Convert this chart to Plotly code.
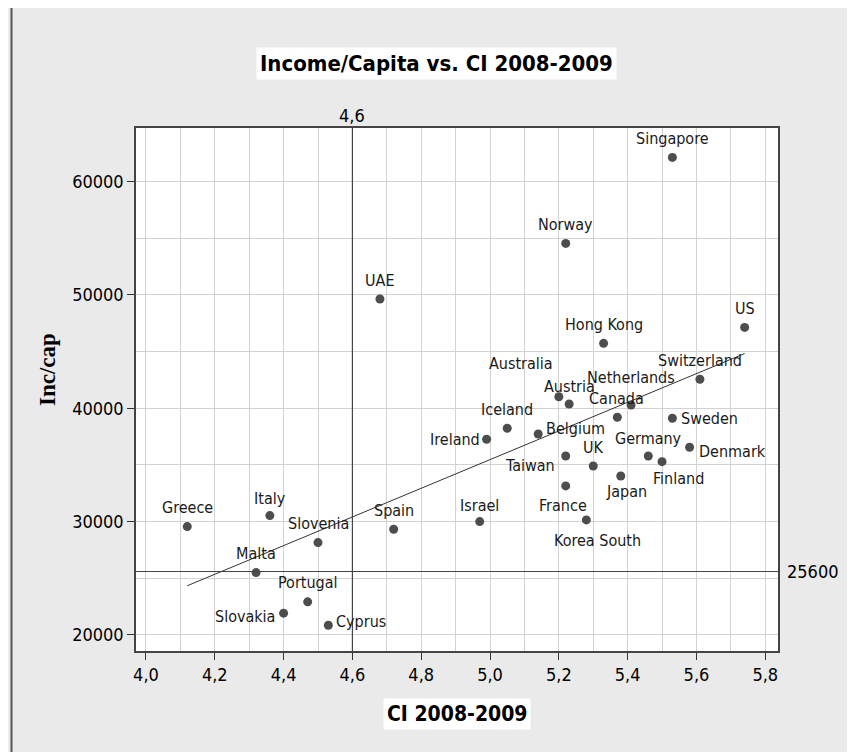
import numpy as np
import plotly.graph_objects as go

# ---------------- data ----------------
countries = ["Singapore", "Norway", "UAE", "US", "Hong Kong", "Switzerland", "Australia",
             "Austria", "Netherlands", "Canada", "Iceland", "Ireland", "Belgium", "Sweden",
             "Denmark", "Germany", "Finland", "Taiwan", "UK", "Japan", "France",
             "Korea South", "Israel", "Greece", "Italy", "Slovenia", "Spain", "Malta",
             "Portugal", "Slovakia", "Cyprus"]
ci = [5.53, 5.22, 4.68, 5.74, 5.33, 5.61, 5.20,
      5.23, 5.41, 5.37, 5.05, 4.99, 5.14, 5.53,
      5.58, 5.46, 5.50, 5.22, 5.30, 5.38, 5.22,
      5.28, 4.97, 4.12, 4.36, 4.50, 4.72, 4.32,
      4.47, 4.40, 4.53]
inc = [62140, 54550, 49640, 47140, 45730, 42560, 41020,
       40380, 40290, 39210, 38240, 37270, 37730, 39120,
       36560, 35790, 35290, 35790, 34910, 34030, 33150,
       30150, 30000, 29560, 30530, 28150, 29330, 25500,
       22920, 21920, 20860]

x_tickvals = [4.0, 4.2, 4.4, 4.6, 4.8, 5.0, 5.2, 5.4, 5.6, 5.8]
x_ticktext = ["4,0", "4,2", "4,4", "4,6", "4,8", "5,0", "5,2", "5,4", "5,6", "5,8"]
y_tickvals = [20000, 30000, 40000, 50000, 60000]
y_ticktext = ["20000", "30000", "40000", "50000", "60000"]

ref_x = 4.6
ref_x_label = "4,6"
ref_y = 25600
ref_y_label = "25600"

title_text = "Income/Capita vs. CI 2008-2009"
x_title = "CI 2008-2009"
y_title = "Inc/cap"

# ---------------- style / layout ----------------
OFF = 8                      # page body margin in the browser
W, H = 855 - OFF, 752 - OFF  # figure size
L, R, T, B = 128, 77, 120, 101
PW, PH = W - L - R, H - T - B
BG = "#EAEAEA"
NARROW = "DejaVu Sans Condensed, Liberation Sans Narrow, sans-serif"

def px_x(p):
    """page pixel x -> paper coordinate"""
    return (p - OFF - L) / PW

def px_y(p):
    """page pixel y -> paper coordinate"""
    return (H - B - (p - OFF)) / PH

# label offsets (style): name -> (xanchor, xshift, yshift)
label_style = {
    "Australia": ("center", -38, 33),
    "Austria": ("center", 0, 17),
    "Netherlands": ("center", 0, 28),
    "Canada": ("center", -1, 19),
    "Ireland": ("right", -5, 0),
    "Belgium": ("left", 6, 6),
    "Taiwan": ("right", -9, -9),
    "UK": ("center", 0, 18),
    "Germany": ("center", 0, 18),
    "Finland": ("center", 16, -17),
    "Japan": ("center", 6, -16),
    "France": ("center", -3, -20),
    "Korea South": ("center", 11, -21),
    "Israel": ("center", 0, 16),
    "Sweden": ("left", 7, 0),
    "Denmark": ("left", 7, -4),
    "Slovakia": ("right", -7, -3),
    "Cyprus": ("left", 6, 4),
    "Italy": ("center", 0, 17),
}

# regression line (least squares fit)
xa = np.array(ci)
ya = np.array(inc)
slope, intercept = np.polyfit(xa, ya, 1)
fit_x = np.array([xa.min(), xa.max()])
fit_y = slope * fit_x + intercept

fig = go.Figure()
fig.add_trace(go.Scatter(x=fit_x, y=fit_y, mode="lines",
                         line=dict(color="#333333", width=1), hoverinfo="skip",
                         showlegend=False))
fig.add_trace(go.Scatter(x=ci, y=inc, mode="markers", text=countries,
                         marker=dict(symbol="circle", size=9, color="#4d4d4d"),
                         showlegend=False))

annotations = []
for name, xv, yv in zip(countries, ci, inc):
    xanchor, xs, ys = label_style.get(name, ("center", 0, 19))
    annotations.append(dict(x=xv, y=yv, xref="x", yref="y", text=name, showarrow=False,
                            xanchor=xanchor, yanchor="middle", xshift=xs, yshift=ys,
                            font=dict(family=NARROW, size=16, color="#1a1a1a")))

# title with white box
annotations.append(dict(x=px_x(436), y=px_y(64), xref="paper", yref="paper",
                        text="<b>" + title_text + "</b>", showarrow=False,
                        xanchor="center", yanchor="middle", bgcolor="white", borderpad=3,
                        font=dict(family=NARROW, size=22, color="black")))
# x axis title with white box
annotations.append(dict(x=px_x(457), y=px_y(714), xref="paper", yref="paper",
                        text="<b>" + x_title + "</b>", showarrow=False,
                        xanchor="center", yanchor="middle", bgcolor="white", borderpad=3,
                        font=dict(family=NARROW, size=21, color="black")))
# y axis title
annotations.append(dict(x=px_x(47), y=px_y(370), xref="paper", yref="paper",
                        text="<b>" + y_title + "</b>", showarrow=False, textangle=-90,
                        xanchor="center", yanchor="middle",
                        font=dict(family="Liberation Serif, Times New Roman, serif", size=23,
                                  color="black")))
# reference line labels
annotations.append(dict(x=ref_x, y=px_y(116), xref="x", yref="paper", text=ref_x_label,
                        showarrow=False, xanchor="center", yanchor="middle",
                        font=dict(family=NARROW, size=18, color="black")))
annotations.append(dict(x=px_x(785), y=ref_y, xref="paper", yref="y", text=ref_y_label,
                        showarrow=False, xanchor="left", yanchor="middle",
                        font=dict(family=NARROW, size=18, color="black")))

shapes = [
    dict(type="line", xref="x", yref="paper", x0=ref_x, x1=ref_x, y0=0, y1=1,
         line=dict(color="#444444", width=1.2), layer="above"),
    dict(type="line", xref="paper", yref="y", x0=0, x1=1, y0=ref_y, y1=ref_y,
         line=dict(color="#444444", width=1.2), layer="above"),
    # image left border
    dict(type="line", xref="paper", yref="paper", x0=px_x(11.5), x1=px_x(11.5),
         y0=px_y(OFF), y1=px_y(752), line=dict(color="#555555", width=2)),
]

fig.update_layout(
    width=W, height=H,
    margin=dict(l=L, r=R, t=T, b=B),
    paper_bgcolor=BG, plot_bgcolor="white",
    annotations=annotations, shapes=shapes,
    showlegend=False,
)
fig.update_xaxes(range=[3.971, 5.837], tickmode="array", tickvals=x_tickvals,
                 ticktext=x_ticktext, ticks="outside", ticklen=7, tickcolor="#333333",
                 showgrid=True, gridcolor="#D2D2D2", gridwidth=1,
                 minor=dict(dtick=0.1, tick0=4.0, showgrid=True, gridcolor="#D2D2D2",
                            ticklen=0),
                 showline=True, linecolor="#444444", linewidth=1.5, mirror=True,
                 zeroline=False,
                 tickfont=dict(family=NARROW, size=18, color="black"))
fig.update_yaxes(range=[18584, 64733], tickmode="array", tickvals=y_tickvals,
                 ticktext=y_ticktext, ticks="outside", ticklen=7, tickcolor="#333333",
                 showgrid=True, gridcolor="#D2D2D2", gridwidth=1,
                 minor=dict(dtick=5000, tick0=0, showgrid=True, gridcolor="#D2D2D2",
                            ticklen=0),
                 showline=True, linecolor="#444444", linewidth=1.5, mirror=True,
                 zeroline=False,
                 tickfont=dict(family=NARROW, size=18, color="black"))

fig.write_html("out.html")
